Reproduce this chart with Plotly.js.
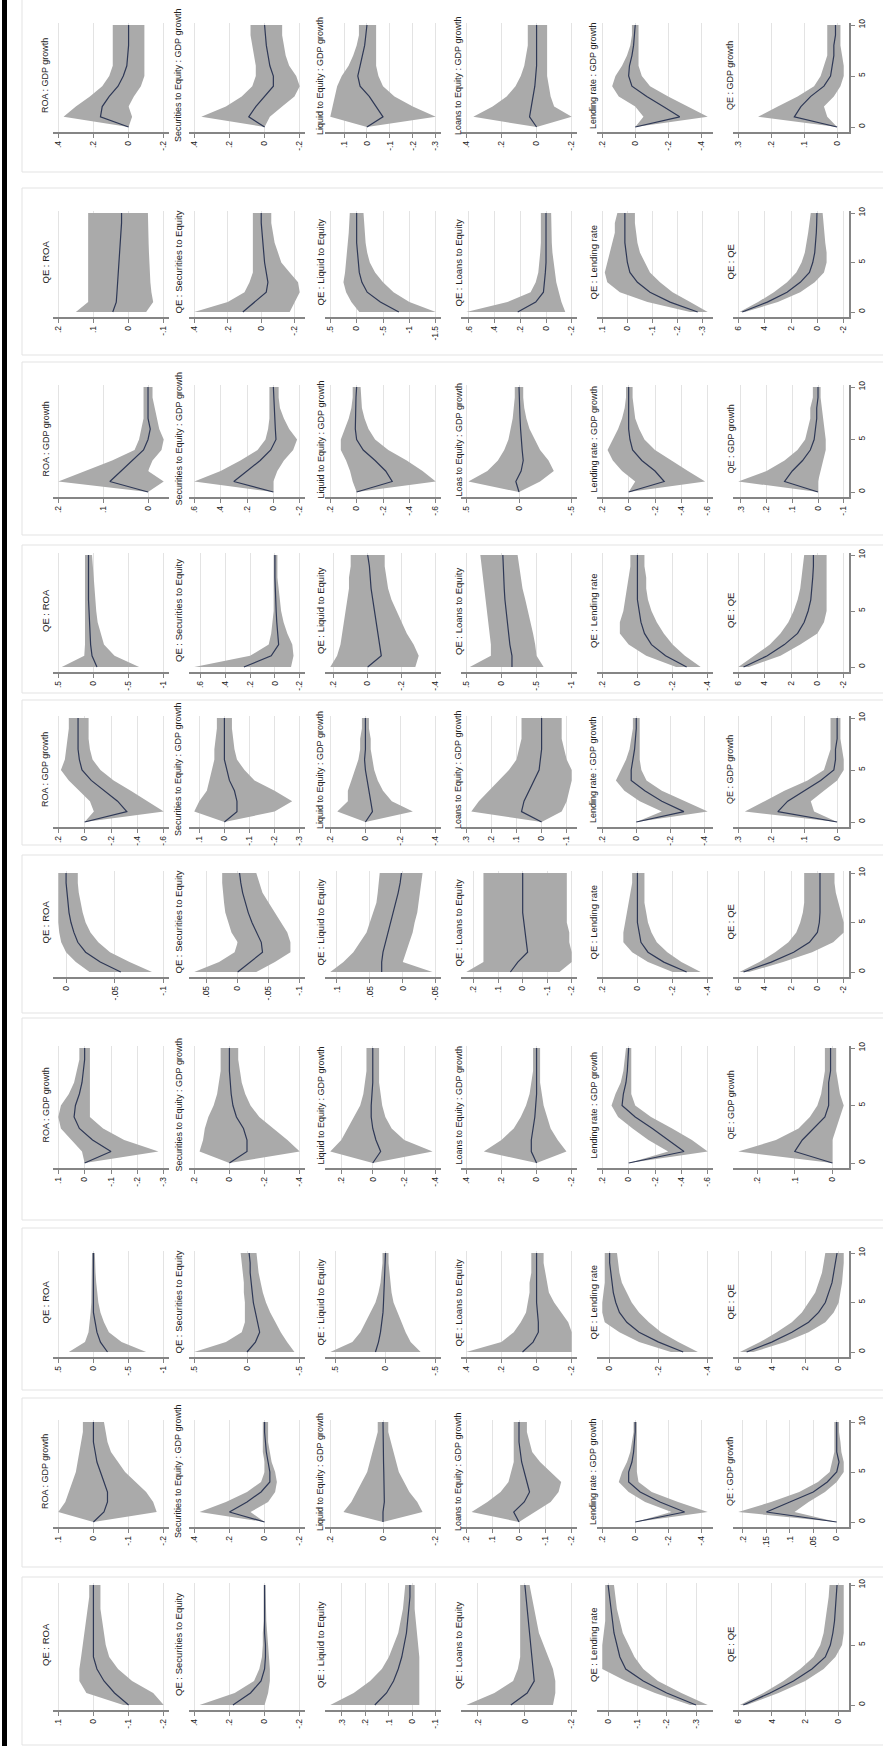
<!DOCTYPE html>
<html><head><meta charset="utf-8">
<script src="https://cdn.plot.ly/plotly-3.0.1.min.js"></script>
<style>html,body{margin:0;padding:0;background:#fff}#chart{width:883px;height:1746px}</style>
</head><body><div id="chart"></div>
<script>
// ---------------- DATA ----------------
const horizon = [0,1,2,3,4,5,6,7,8,9,10];

const gdpTitles = ["ROA : GDP growth","Securities to Equity : GDP growth","Liquid to Equity : GDP growth","Loans to Equity : GDP growth","Lending rate : GDP growth","QE : GDP growth"];
const gdpTitlesS3 = ["ROA : GDP growth","Securities to Equity : GDP growth","Liquid to Equity : GDP growth","Loas to Equity : GDP growth","Lending rate : GDP growth","QE : GDP growth"];
const qeTitles = ["QE : ROA","QE : Securities to Equity","QE : Liquid to Equity","QE : Loans to Equity","QE : Lending rate","QE : QE"];
const horizonTicks = ["0","5","10"];

// strip 1 (GDP growth shock)
const s1_ticks = [[".4",".2","0","-.2"],[".4",".2","0","-.2"],[".1","0","-.1","-.2","-.3"],[".4",".2","0","-.2"],[".2","0","-.2","-.4"],[".3",".2",".1","0"]];
const s1_mid = [[0,.16,.15,.11,.06,.03,.01,.005,0,0,0],[0,.09,.05,0,-.05,-.05,-.03,-.02,-.01,-.005,0],[0,-.07,-.04,-.01,.03,.04,.03,.02,.01,.005,0],[0,.04,.03,.02,.01,.005,0,0,0,0,0],[0,-.27,-.17,-.07,.02,.04,.035,.02,.01,.005,0],[0,.13,.11,.08,.04,.02,.015,.01,.01,.005,.005]];
const s1_hi  = [[0,.37,.30,.22,.15,.11,.09,.09,.09,.09,.09],[0,.36,.22,.13,.07,.05,.05,.06,.07,.08,.08],[0,.16,.15,.14,.13,.11,.08,.06,.045,.035,.035],[0,.36,.25,.17,.12,.09,.07,.06,.05,.05,.05],[0,-.05,0,.1,.14,.12,.08,.05,.03,.02,.02],[0,.24,.18,.12,.07,.05,.04,.03,.03,.03,.03]];
const s1_lo  = [[0,-.02,0,-.03,-.07,-.09,-.09,-.09,-.09,-.09,-.09],[0,-.03,-.1,-.17,-.2,-.18,-.14,-.12,-.11,-.1,-.1],[0,-.3,-.2,-.12,-.07,-.05,-.04,-.04,-.04,-.04,-.04],[0,-.2,-.1,-.08,-.07,-.06,-.06,-.06,-.06,-.06,-.06],[0,-.44,-.32,-.2,-.09,-.04,-.02,-.02,-.02,-.02,-.02],[0,.03,.04,.01,-.01,-.02,-.02,-.015,-.01,-.01,-.01]];

// strip 2 (QE shock)
const s2_ticks = [[".2",".1","0","-.1"],[".4",".2","0","-.2"],[".5","0","-.5","-1","-1.5"],[".6",".4",".2","0","-.2"],[".1","0","-.1","-.2","-.3"],["6","4","2","0","-2"]];
const s2_mid = [[.045,.035,.033,.031,.029,.027,.025,.023,.021,.02,.02],[.11,.04,-.03,-.04,-.03,-.02,-.015,-.01,-.005,0,0],[-.8,-.45,-.2,-.1,-.05,-.03,-.01,0,0,0,0],[.22,.08,.02,.01,.005,0,0,0,0,0,0],[-.28,-.17,-.09,-.04,-.01,0,.005,.01,.01,.01,.01],[5.7,3.8,2.3,1.3,.6,.35,.2,.12,.08,.05,.03]];
const s2_hi  = [[.15,.115,.115,.115,.115,.115,.115,.115,.115,.115,.115],[.4,.2,.1,.07,.05,.05,.05,.05,.05,.05,.05],[-.05,.1,.2,.25,.22,.2,.18,.16,.15,.14,.13],[.62,.3,.12,.08,.06,.05,.045,.04,.04,.04,.04],[-.25,-.08,.03,.08,.09,.08,.07,.06,.05,.05,.04],[5.9,4.5,3.3,2.3,1.6,1.2,.95,.8,.7,.6,.5]];
const s2_lo  = [[-.05,-.07,-.065,-.062,-.06,-.059,-.058,-.057,-.056,-.055,-.055],[-.17,-.2,-.23,-.22,-.17,-.12,-.1,-.08,-.07,-.06,-.06],[-1.5,-1.0,-.7,-.5,-.35,-.25,-.2,-.17,-.15,-.14,-.13],[-.15,-.12,-.1,-.08,-.07,-.06,-.05,-.045,-.04,-.04,-.04],[-.32,-.25,-.18,-.13,-.09,-.07,-.05,-.04,-.035,-.03,-.03],[5.5,3.0,1.3,.2,-.5,-.7,-.7,-.6,-.5,-.45,-.4]];

// strip 3 (GDP growth shock)
const s3_ticks = [[".2",".1","0"],[".6",".4",".2","0","-.2"],[".2","0","-.2","-.4","-.6"],[".5","0","-.5"],[".2","0","-.2","-.4","-.6"],[".3",".2",".1","0","-.1"]];
const s3_mid = [[0,.085,.06,.035,.01,0,-.005,0,0,0,0],[0,.3,.2,.1,.02,-.02,-.015,-.01,-.005,0,0],[0,-.27,-.22,-.14,-.05,0,.01,.01,.01,.005,0],[0,.03,-.02,-.04,-.03,-.02,-.015,-.01,-.005,0,0],[0,-.27,-.2,-.1,-.03,-.01,0,0,0,0,0],[0,.13,.1,.06,.03,.015,.01,.005,.005,0,0]];
const s3_hi  = [[0,.2,.14,.08,.03,.02,.015,.01,.01,.01,.01],[0,.6,.4,.25,.12,.06,.04,.03,.03,.03,.03],[0,.03,.05,.08,.12,.12,.09,.06,.04,.03,.03],[0,.48,.3,.2,.14,.1,.08,.06,.05,.04,.04],[0,-.05,.05,.12,.16,.12,.08,.05,.03,.02,.02],[0,.31,.2,.13,.08,.05,.04,.03,.03,.02,.02]];
const s3_lo  = [[0,-.035,0,-.01,-.03,-.035,-.025,-.02,-.015,-.01,-.01],[0,0,-.03,-.08,-.15,-.18,-.12,-.08,-.05,-.04,-.04],[0,-.6,-.5,-.38,-.24,-.14,-.09,-.06,-.04,-.035,-.03],[0,-.2,-.33,-.28,-.2,-.15,-.1,-.07,-.05,-.04,-.04],[0,-.58,-.45,-.32,-.2,-.12,-.08,-.05,-.04,-.03,-.03],[0,0,-.01,-.02,-.03,-.03,-.025,-.02,-.015,-.01,-.01]];

// strip 4 (QE shock)
const s4_ticks = [[".5","0","-.5","-1"],[".6",".4",".2","0","-.2"],[".2","0","-.2","-.4"],[".5","0","-.5","-1"],[".2","0","-.2","-.4"],["6","4","2","0","-2"]];
const s4_mid = [[-.05,.02,.04,.05,.06,.065,.07,.07,.07,.07,.07],[.25,.03,-.03,-.02,-.015,-.01,-.005,0,0,0,0],[0,-.08,-.07,-.06,-.05,-.04,-.03,-.02,-.015,-.01,0],[-.15,-.15,-.12,-.1,-.08,-.06,-.05,-.04,-.03,-.02,-.02],[-.28,-.16,-.08,-.04,-.02,-.01,0,0,0,0,0],[5.6,3.8,2.5,1.5,1.0,.7,.5,.4,.35,.3,.3]];
const s4_hi  = [[.45,.13,.12,.12,.12,.12,.12,.12,.12,.12,.12],[.65,.2,.05,.03,.02,.01,.01,.01,.01,.01,.01],[.22,.18,.16,.15,.14,.13,.12,.11,.11,.1,.1],[.45,.15,.15,.17,.19,.21,.23,.25,.27,.28,.3],[-.22,-.05,.05,.1,.1,.08,.07,.06,.05,.04,.04],[6.0,4.8,3.6,2.8,2.2,1.8,1.5,1.3,1.2,1.1,1.0]];
const s4_lo  = [[-.65,-.3,-.15,-.1,-.06,-.04,-.02,-.01,0,.01,.02],[-.13,-.15,-.14,-.1,-.07,-.05,-.04,-.03,-.02,-.02,-.02],[-.28,-.3,-.27,-.23,-.2,-.17,-.14,-.12,-.11,-.1,-.1],[-.6,-.5,-.48,-.45,-.42,-.38,-.34,-.3,-.27,-.25,-.23],[-.36,-.27,-.2,-.15,-.11,-.08,-.06,-.05,-.05,-.04,-.04],[5.2,2.8,1.3,0,-.5,-.7,-.7,-.7,-.7,-.7,-.7]];

// strip 5 (GDP growth shock)
const s5_ticks = [[".2","0","-.2","-.4","-.6"],[".1","0","-.1","-.2","-.3"],[".2","0","-.2","-.4"],[".3",".2",".1","0","-.1"],[".2","0","-.2","-.4"],[".3",".2",".1","0"]];
const s5_mid = [[0,-.32,-.25,-.15,-.05,.02,.04,.05,.05,.05,.05],[0,-.05,-.05,-.04,-.02,-.01,0,0,0,0,0],[0,-.04,-.03,-.02,-.01,0,.005,0,0,0,0],[0,.08,.07,.05,.03,.01,.005,0,0,0,0],[0,-.28,-.15,-.05,.03,.03,.02,.01,.005,0,0],[0,.18,.15,.1,.05,.01,.005,.005,0,0,0]];
const s5_hi  = [[0,-.07,-.04,.04,.12,.18,.15,.14,.13,.12,.12],[0,.12,.1,.07,.06,.05,.04,.04,.035,.03,.03],[0,.16,.1,.1,.08,.06,.04,.03,.03,.02,.02],[0,.28,.25,.21,.17,.13,.1,.09,.08,.08,.08],[0,-.15,-.02,.07,.12,.09,.06,.04,.03,.02,.02],[0,.28,.22,.16,.09,.04,.03,.02,.02,.02,.02]];
const s5_lo  = [[0,-.6,-.48,-.35,-.22,-.12,-.06,-.04,-.03,-.03,-.03],[0,-.2,-.27,-.2,-.12,-.08,-.05,-.04,-.035,-.03,-.03],[0,-.27,-.15,-.1,-.07,-.05,-.04,-.03,-.03,-.02,-.02],[0,-.08,-.1,-.11,-.12,-.12,-.1,-.09,-.08,-.08,-.08],[0,-.42,-.28,-.15,-.06,-.03,-.02,-.02,-.02,-.02,-.02],[0,.07,.08,.04,0,-.02,-.02,-.015,-.01,-.01,-.01]];

// strip 6 (QE shock)
const s6_ticks = [["0","-.05","-.1"],[".05","0","-.05","-.1"],[".1",".05","0","-.05"],[".2",".1","0","-.1","-.2"],[".2","0","-.2","-.4"],["6","4","2","0","-2"]];
const s6_mid = [[-.056,-.035,-.02,-.012,-.008,-.005,-.003,-.002,-.001,0,0],[0,-.02,-.04,-.038,-.03,-.023,-.017,-.012,-.008,-.005,-.003],[.032,.032,.03,.026,.022,.018,.014,.01,.007,.004,.002],[.05,.02,-.02,-.015,-.01,-.005,0,0,0,0,0],[-.28,-.15,-.06,-.02,-.01,0,0,0,0,0,0],[5.6,3.5,1.8,.6,0,-.15,-.2,-.2,-.2,-.2,-.2]];
const s6_hi  = [[-.024,-.01,0,.005,.007,.008,.008,.008,.008,.008,.008],[.07,.03,.005,0,.01,.015,.02,.022,.024,.025,.025],[.11,.09,.075,.065,.055,.05,.045,.04,.038,.036,.035],[.23,.16,.16,.16,.16,.16,.16,.16,.16,.16,.16],[-.2,-.06,.03,.08,.08,.07,.06,.05,.04,.03,.03],[5.9,4.4,3.2,2.2,1.6,1.3,1.1,1.0,1.0,1.0,1.0]];
const s6_lo  = [[-.088,-.065,-.045,-.033,-.025,-.02,-.017,-.015,-.013,-.012,-.012],[-.03,-.06,-.085,-.085,-.08,-.07,-.06,-.05,-.04,-.035,-.03],[-.045,0,-.005,-.01,-.015,-.018,-.022,-.025,-.027,-.028,-.03],[-.15,-.2,-.2,-.19,-.19,-.18,-.18,-.18,-.18,-.18,-.18],[-.36,-.25,-.17,-.11,-.08,-.06,-.05,-.04,-.04,-.04,-.04],[5.2,2.6,.4,-1.2,-2.0,-2.0,-1.8,-1.6,-1.4,-1.3,-1.3]];

// strip 7 (GDP growth shock)
const s7_ticks = [[".1","0","-.1","-.2","-.3"],[".2","0","-.2","-.4"],[".2","0","-.2","-.4"],[".4",".2","0","-.2"],[".2","0","-.2","-.4","-.6"],[".2",".1","0"]];
const s7_mid = [[0,-.1,-.03,.02,.04,.035,.02,.01,.005,0,0],[0,-.1,-.1,-.08,-.04,-.02,-.01,-.005,0,0,0],[0,-.05,-.02,0,.01,.01,.005,0,0,0,0],[0,.03,.03,.02,.01,.005,0,0,0,0,0],[0,-.42,-.3,-.18,-.05,.05,.04,.02,.01,.005,0],[0,.1,.08,.05,.02,.01,.01,.01,.005,.005,.005]];
const s7_hi  = [[0,.01,.05,.09,.1,.09,.06,.04,.03,.02,.02],[0,.17,.15,.14,.12,.09,.07,.06,.05,.05,.05],[0,.27,.2,.16,.12,.08,.06,.05,.04,.04,.04],[0,.3,.2,.13,.09,.06,.04,.03,.02,.02,.02],[0,-.3,-.15,-.03,.08,.13,.1,.06,.04,.03,.02],[0,.25,.15,.09,.06,.04,.03,.025,.02,.02,.02]];
const s7_lo  = [[0,-.28,-.15,-.07,-.02,-.02,-.02,-.02,-.02,-.02,-.02],[0,-.4,-.33,-.25,-.17,-.12,-.09,-.07,-.06,-.05,-.05],[0,-.38,-.2,-.12,-.08,-.06,-.05,-.04,-.04,-.04,-.04],[0,-.17,-.12,-.08,-.06,-.04,-.03,-.02,-.02,-.02,-.02],[0,-.6,-.48,-.33,-.17,-.05,-.02,-.02,-.02,-.02,-.02],[0,0,0,-.01,-.02,-.03,-.02,-.015,-.01,-.01,-.01]];

// strip 8 (QE shock)
const s8_ticks = [[".5","0","-.5","-1"],[".5","0","-.5"],[".5","0","-.5"],[".4",".2","0","-.2"],["0","-.2","-.4"],["6","4","2","0"]];
const s8_mid = [[-.2,-.1,-.05,-.02,0,0,0,0,0,0,0],[0,-.08,-.12,-.1,-.08,-.06,-.05,-.04,-.03,-.03,-.02],[.1,.07,.05,.035,.025,.02,.015,.01,.005,0,0],[.08,.02,-.01,-.01,-.005,0,0,0,0,0,0],[-.3,-.2,-.12,-.07,-.04,-.025,-.015,-.01,-.005,0,0],[5.5,4.0,2.8,1.8,1.2,.8,.6,.4,.3,.2,.1]];
const s8_hi  = [[.35,.12,.07,.05,.04,.03,.03,.02,.02,.02,.02],[.5,.2,.05,.02,.02,.02,.03,.03,.04,.05,.06],[.55,.33,.25,.2,.15,.1,.07,.05,.04,.03,.03],[.4,.2,.13,.09,.06,.05,.04,.04,.03,.03,.03],[-.25,-.12,-.04,.02,.03,.03,.025,.02,.02,.02,.02],[5.9,4.7,3.7,2.8,2.2,1.8,1.4,1.2,1.0,.9,.8]];
const s8_lo  = [[-.75,-.4,-.22,-.15,-.1,-.07,-.05,-.04,-.03,-.02,-.02],[-.45,-.38,-.32,-.27,-.22,-.18,-.15,-.13,-.11,-.1,-.09],[-.35,-.25,-.2,-.16,-.12,-.08,-.06,-.05,-.04,-.03,-.03],[-.2,-.2,-.2,-.18,-.14,-.1,-.07,-.06,-.05,-.04,-.04],[-.36,-.28,-.21,-.16,-.12,-.09,-.07,-.05,-.04,-.035,-.03],[5.1,3.2,1.8,.8,.3,0,-.1,-.2,-.25,-.3,-.3]];

// strip 9 (GDP growth shock)
const s9_ticks = [[".1","0","-.1","-.2"],[".4",".2","0","-.2"],[".2","0","-.2"],[".2",".1","0","-.1","-.2"],[".2","0","-.2","-.4"],[".2",".15",".1",".05","0"]];
const s9_mid = [[0,-.03,-.04,-.04,-.03,-.02,-.01,-.005,0,0,0],[0,.2,.1,.02,-.03,-.03,-.02,-.01,-.005,0,0],[0,0,-.005,-.005,-.004,-.003,-.002,-.001,0,0,0],[0,.02,-.02,-.04,-.03,-.02,-.01,-.005,0,0,0],[0,-.3,-.15,-.03,.04,.04,.02,.01,.005,0,0],[0,.15,.1,.05,.02,0,-.005,0,0,0,0]];
const s9_hi  = [[0,.1,.08,.07,.06,.05,.045,.04,.035,.03,.03],[0,.37,.22,.1,.02,0,0,.01,.01,.01,.01],[0,.15,.12,.1,.08,.06,.05,.04,.03,.02,.02],[0,.18,.12,.07,.04,.03,.02,.02,.02,.02,.02],[0,-.22,-.06,.04,.1,.08,.05,.03,.02,.01,.01],[0,.21,.14,.08,.04,.015,.01,.005,.005,.005,.005]];
const s9_lo  = [[0,-.18,-.17,-.15,-.12,-.09,-.07,-.05,-.04,-.035,-.03],[0,.08,-.02,-.06,-.07,-.06,-.04,-.03,-.02,-.02,-.02],[0,-.15,-.13,-.1,-.08,-.06,-.05,-.04,-.03,-.02,-.02],[0,-.06,-.12,-.15,-.16,-.12,-.08,-.05,-.04,-.03,-.03],[0,-.44,-.26,-.1,-.02,-.01,-.01,-.01,-.01,-.01,-.01],[0,.09,.06,.025,0,-.015,-.015,-.01,-.008,-.005,-.005]];

// strip 10 (QE shock)
const s10_ticks = [[".1","0","-.1","-.2"],[".4",".2","0","-.2"],[".3",".2",".1","0","-.1"],[".2","0","-.2"],["0","-.1","-.2","-.3"],["6","4","2","0"]];
const s10_mid = [[-.1,-.06,-.03,-.01,0,0,0,0,0,0,0],[.18,.08,.02,0,-.005,-.005,0,0,0,0,0],[.16,.11,.08,.06,.045,.035,.025,.02,.015,.01,.01],[.06,-.01,-.04,-.035,-.03,-.025,-.02,-.015,-.01,-.005,0],[-.3,-.2,-.12,-.06,-.04,-.03,-.02,-.015,-.01,-.005,0],[5.7,4.1,2.7,1.6,.8,.5,.35,.25,.2,.15,.1]];
const s10_hi  = [[-.085,.02,.04,.04,.035,.03,.025,.02,.015,.012,.012],[.37,.17,.06,.03,.015,.01,.01,.005,.005,.005,.005],[.35,.25,.18,.13,.1,.08,.06,.05,.04,.035,.03],[.25,.13,.05,.03,.02,.02,.02,.02,.02,.02,.02],[-.28,-.16,-.06,.02,.02,.02,.015,.01,.01,.01,.01],[5.9,4.5,3.3,2.3,1.5,1.1,.9,.8,.7,.6,.55]];
const s10_lo  = [[-.2,-.17,-.11,-.07,-.045,-.035,-.03,-.025,-.02,-.02,-.02],[0,-.02,-.03,-.03,-.025,-.02,-.015,-.01,-.008,-.006,-.005],[-.03,-.03,-.03,-.03,-.03,-.025,-.02,-.015,-.01,-.01,-.01],[-.12,-.13,-.13,-.12,-.1,-.08,-.06,-.05,-.04,-.03,-.02],[-.34,-.25,-.17,-.12,-.09,-.07,-.05,-.04,-.03,-.025,-.02],[5.5,3.6,2.0,.9,.2,-.2,-.3,-.3,-.3,-.3,-.3]];

// ---------------- LAYOUT GEOMETRY (px) ----------------
const W = 883, H = 1746;
const panelLeft = [53,189,325,461,597,733];
const panelWidth = 116;
const titleX = [45,178,320,458,593,730];
const stripTop = [25,213,387,555,718,873,1048,1253,1422,1585];   // horizon 10
const stripBot = [127,312,492,667,822,972,1163,1352,1522,1705];  // horizon 0
const frameTop = [-3,188,362,545,700,855,1018,1228,1398,1577];
const frameBot = [172,355,535,693,845,1013,1220,1390,1567,1745];

const FONT = "Liberation Sans, Arial, Helvetica, sans-serif";
const BAND = "#aaaaaa", LINE = "#2e3856", AXIS = "#858585", GRID = "#e3e3e3";

const strips = [
  {kind:"gdp", titles:gdpTitles,  ticks:s1_ticks,  lo:s1_lo,  mid:s1_mid,  hi:s1_hi},
  {kind:"qe",  titles:qeTitles,   ticks:s2_ticks,  lo:s2_lo,  mid:s2_mid,  hi:s2_hi},
  {kind:"gdp", titles:gdpTitlesS3,ticks:s3_ticks,  lo:s3_lo,  mid:s3_mid,  hi:s3_hi},
  {kind:"qe",  titles:qeTitles,   ticks:s4_ticks,  lo:s4_lo,  mid:s4_mid,  hi:s4_hi},
  {kind:"gdp", titles:gdpTitles,  ticks:s5_ticks,  lo:s5_lo,  mid:s5_mid,  hi:s5_hi},
  {kind:"qe",  titles:qeTitles,   ticks:s6_ticks,  lo:s6_lo,  mid:s6_mid,  hi:s6_hi},
  {kind:"gdp", titles:gdpTitles,  ticks:s7_ticks,  lo:s7_lo,  mid:s7_mid,  hi:s7_hi},
  {kind:"qe",  titles:qeTitles,   ticks:s8_ticks,  lo:s8_lo,  mid:s8_mid,  hi:s8_hi},
  {kind:"gdp", titles:gdpTitles,  ticks:s9_ticks,  lo:s9_lo,  mid:s9_mid,  hi:s9_hi},
  {kind:"qe",  titles:qeTitles,   ticks:s10_ticks, lo:s10_lo, mid:s10_mid, hi:s10_hi}
];

const data = [];
const layout = {
  width: W, height: H, margin:{l:0,r:0,t:0,b:0,pad:0},
  paper_bgcolor:"#ffffff", plot_bgcolor:"#ffffff", showlegend:false,
  font:{family:FONT, size:9, color:"#222"},
  shapes:[], annotations:[]
};

// left black border
layout.shapes.push({type:"rect", xref:"paper", yref:"paper", x0:2/W, x1:7/W, y0:0, y1:1, fillcolor:"#000", line:{width:0}, layer:"above"});

strips.forEach((s, si) => {
  layout.shapes.push({type:"rect", xref:"paper", yref:"paper", x0:22/W, x1:1.02,
    y0:1-frameBot[si]/H, y1:1-frameTop[si]/H, line:{color:"#e3e3e3", width:1}, fillcolor:"rgba(0,0,0,0)", layer:"below"});
  const T = stripTop[si], B = stripBot[si];
  const ppu = (B - T) / 10;
  const yBottomPx = B + 5, yTopPx = T - 2;
  const yRange = [-5/ppu, 10 + 2/ppu];
  for (let p = 0; p < 6; p++) {
    const n = si*6 + p + 1;
    const suf = n === 1 ? "" : String(n);
    const tv = s.ticks[p].map(parseFloat);
    const all = tv.concat(s.lo[p], s.hi[p], s.mid[p]);
    const mx = Math.max(...all), mn = Math.min(...all);
    const pad = (mx - mn) * 0.05;
    layout["xaxis"+suf] = {
      domain:[panelLeft[p]/W, (panelLeft[p]+panelWidth)/W], anchor:"y"+suf,
      range:[mx+pad, mn-pad], tickmode:"array", tickvals:tv, ticktext:s.ticks[p], tickangle:-90,
      showgrid:true, gridcolor:GRID, gridwidth:1, zeroline:false,
      showline:true, linecolor:AXIS, linewidth:1.5, ticks:"outside", ticklen:4, tickcolor:AXIS, tickwidth:1,
      tickfont:{family:FONT, size:8.5, color:"#222"}, fixedrange:true
    };
    const ya = {
      domain:[1-yBottomPx/H, 1-yTopPx/H], anchor:"x"+suf, range:yRange,
      showgrid:false, zeroline:false, fixedrange:true
    };
    if (p === 5) {
      Object.assign(ya, {side:"right", showline:true, linecolor:AXIS, linewidth:1.5, ticks:"outside", ticklen:4,
        tickcolor:AXIS, tickmode:"array", tickvals:horizonTicks.map(Number), ticktext:horizonTicks, tickangle:-90,
        tickfont:{family:FONT, size:8.5, color:"#222"}});
    } else {
      Object.assign(ya, {showline:false, showticklabels:false, ticks:""});
    }
    layout["yaxis"+suf] = ya;

    data.push({type:"scatter", mode:"lines", xaxis:"x"+suf, yaxis:"y"+suf,
      x: s.hi[p].concat(s.lo[p].slice().reverse()), y: horizon.concat(horizon.slice().reverse()),
      fill:"toself", fillcolor:BAND, line:{width:0, color:BAND}, hoverinfo:"skip"});
    data.push({type:"scatter", mode:"lines", xaxis:"x"+suf, yaxis:"y"+suf,
      x: s.mid[p], y: horizon, line:{color:LINE, width:1.2}, hoverinfo:"skip"});

    layout.annotations.push({xref:"paper", yref:"paper", x:titleX[p]/W, y:1-((T+B)/2)/H,
      text:s.titles[p], textangle:-90, showarrow:false, xanchor:"center", yanchor:"middle",
      font:{family:FONT, size:(s.kind === "gdp" ? 9 : 9.5), color:"#222"}});
  }
});

Plotly.newPlot("chart", data, layout, {staticPlot:true, displayModeBar:false});
</script>
</body></html>
